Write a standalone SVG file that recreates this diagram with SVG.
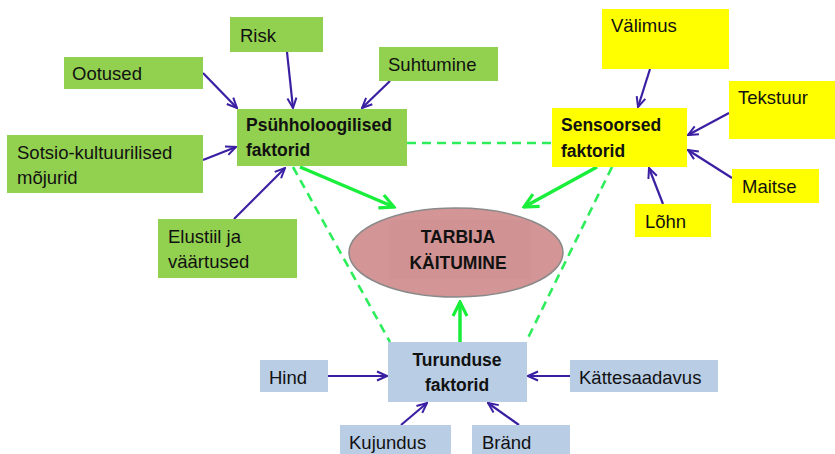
<svg xmlns="http://www.w3.org/2000/svg" width="835" height="454" viewBox="0 0 835 454">
<defs>
<style>
.t{font-family:"Liberation Sans",Arial,sans-serif;font-size:18.5px;fill:#111}
.b{font-family:"Liberation Sans",Arial,sans-serif;font-size:17.5px;font-weight:bold;fill:#111}
.g{fill:#92d050}
.y{fill:#ffff00}
.u{fill:#b9cde5}
.ba{stroke:#3b1fa3;stroke-width:2.2;fill:none;marker-end:url(#ab)}
.ga{stroke:#19ee3a;stroke-width:3.5;fill:none;marker-end:url(#ag)}
.gd{stroke:#2ded5a;stroke-width:2.6;fill:none;stroke-dasharray:9 6}
</style>
<marker id="ab" viewBox="0 0 12 12" refX="11" refY="6" markerWidth="12" markerHeight="12" markerUnits="userSpaceOnUse" orient="auto">
<path d="M1,1.5 L11,6 L1,10.5" fill="none" stroke="#3b1fa3" stroke-width="2"/>
</marker>
<marker id="ag" viewBox="0 0 18 18" refX="16" refY="9" markerWidth="18" markerHeight="18" markerUnits="userSpaceOnUse" orient="auto">
<path d="M2,2 L16,9 L2,16" fill="none" stroke="#19ee3a" stroke-width="3.2"/>
</marker>
</defs>

<g id="connectors">
<line class="gd" x1="407" y1="143" x2="552" y2="143"/>
<line class="gd" x1="293" y1="167" x2="390" y2="342"/>
<line class="gd" x1="612" y1="167" x2="526" y2="342"/>
<line class="ga" x1="300" y1="167" x2="394" y2="207"/>
<line class="ga" x1="597" y1="167" x2="524" y2="207"/>
<line class="ga" x1="460" y1="342" x2="460" y2="302"/>
<line class="ba" x1="203" y1="73" x2="237" y2="108"/>
<line class="ba" x1="287" y1="52" x2="293" y2="108"/>
<line class="ba" x1="390" y1="81" x2="362" y2="108"/>
<line class="ba" x1="203" y1="160" x2="236" y2="147"/>
<line class="ba" x1="234" y1="219" x2="285" y2="168"/>
<line class="ba" x1="650" y1="69" x2="638" y2="107"/>
<line class="ba" x1="729" y1="113" x2="688" y2="135"/>
<line class="ba" x1="732" y1="178" x2="688" y2="150"/>
<line class="ba" x1="663" y1="204" x2="649" y2="168"/>
<line class="ba" x1="328" y1="376" x2="387" y2="376"/>
<line class="ba" x1="570" y1="376" x2="528" y2="376"/>
<line class="ba" x1="401" y1="425" x2="427" y2="403"/>
<line class="ba" x1="519" y1="425" x2="488" y2="403"/>
</g>

<g id="tarbija">
<ellipse cx="456" cy="252.5" rx="107" ry="44.5" fill="#d39595" stroke="#8a8a8a" stroke-width="1.5"/>
<rect x="390" y="220" width="140" height="59" fill="#c98b8b" opacity="0.3"/>
<text class="b" x="458" y="243" text-anchor="middle">TARBIJA</text>
<text class="b" x="458" y="269" text-anchor="middle">KÄITUMINE</text>
</g>

<g id="psuhholoogilised">
<rect class="g" x="237" y="109" width="170" height="57"/>
<text class="b" x="246" y="131">Psühholoogilised</text>
<text class="b" x="246" y="156">faktorid</text>
</g>
<g id="risk"><rect class="g" x="230" y="17" width="93" height="35"/><text class="t" x="240" y="42">Risk</text></g>
<g id="ootused"><rect class="g" x="64" y="57" width="139" height="32"/><text class="t" x="72" y="80">Ootused</text></g>
<g id="suhtumine"><rect class="g" x="379" y="47" width="119" height="34"/><text class="t" x="388" y="71">Suhtumine</text></g>
<g id="sotsio"><rect class="g" x="7" y="135" width="196" height="58"/><text class="t" x="17" y="159">Sotsio-kultuurilised</text><text class="t" x="17" y="184">mõjurid</text></g>
<g id="elustiil"><rect class="g" x="158" y="219" width="139" height="59"/><text class="t" x="168" y="243">Elustiil ja</text><text class="t" x="168" y="268">väärtused</text></g>

<g id="sensoorsed">
<rect class="y" x="552" y="108" width="135" height="59"/>
<text class="b" x="561" y="131">Sensoorsed</text>
<text class="b" x="561" y="157">faktorid</text>
</g>
<g id="valimus"><rect class="y" x="602" y="9" width="127" height="60"/><text class="t" x="611" y="32">Välimus</text></g>
<g id="tekstuur"><rect class="y" x="729" y="81" width="106" height="58"/><text class="t" x="738" y="104">Tekstuur</text></g>
<g id="maitse"><rect class="y" x="732" y="169" width="87" height="34"/><text class="t" x="742" y="193">Maitse</text></g>
<g id="lohn"><rect class="y" x="635" y="204" width="76" height="33"/><text class="t" x="645" y="228">Lõhn</text></g>

<g id="turunduse">
<rect class="u" x="388" y="342" width="139" height="60"/>
<text class="b" x="457" y="366" text-anchor="middle">Turunduse</text>
<text class="b" x="457" y="391" text-anchor="middle">faktorid</text>
</g>
<g id="hind"><rect class="u" x="260" y="360" width="68" height="32"/><text class="t" x="269" y="384">Hind</text></g>
<g id="kattesaadavus"><rect class="u" x="570" y="360" width="148" height="32"/><text class="t" x="579" y="384">Kättesaadavus</text></g>
<g id="kujundus"><rect class="u" x="340" y="425" width="111" height="29"/><text class="t" x="349" y="449">Kujundus</text></g>
<g id="brand"><rect class="u" x="472" y="425" width="98" height="29"/><text class="t" x="482" y="449">Bränd</text></g>
</svg>
